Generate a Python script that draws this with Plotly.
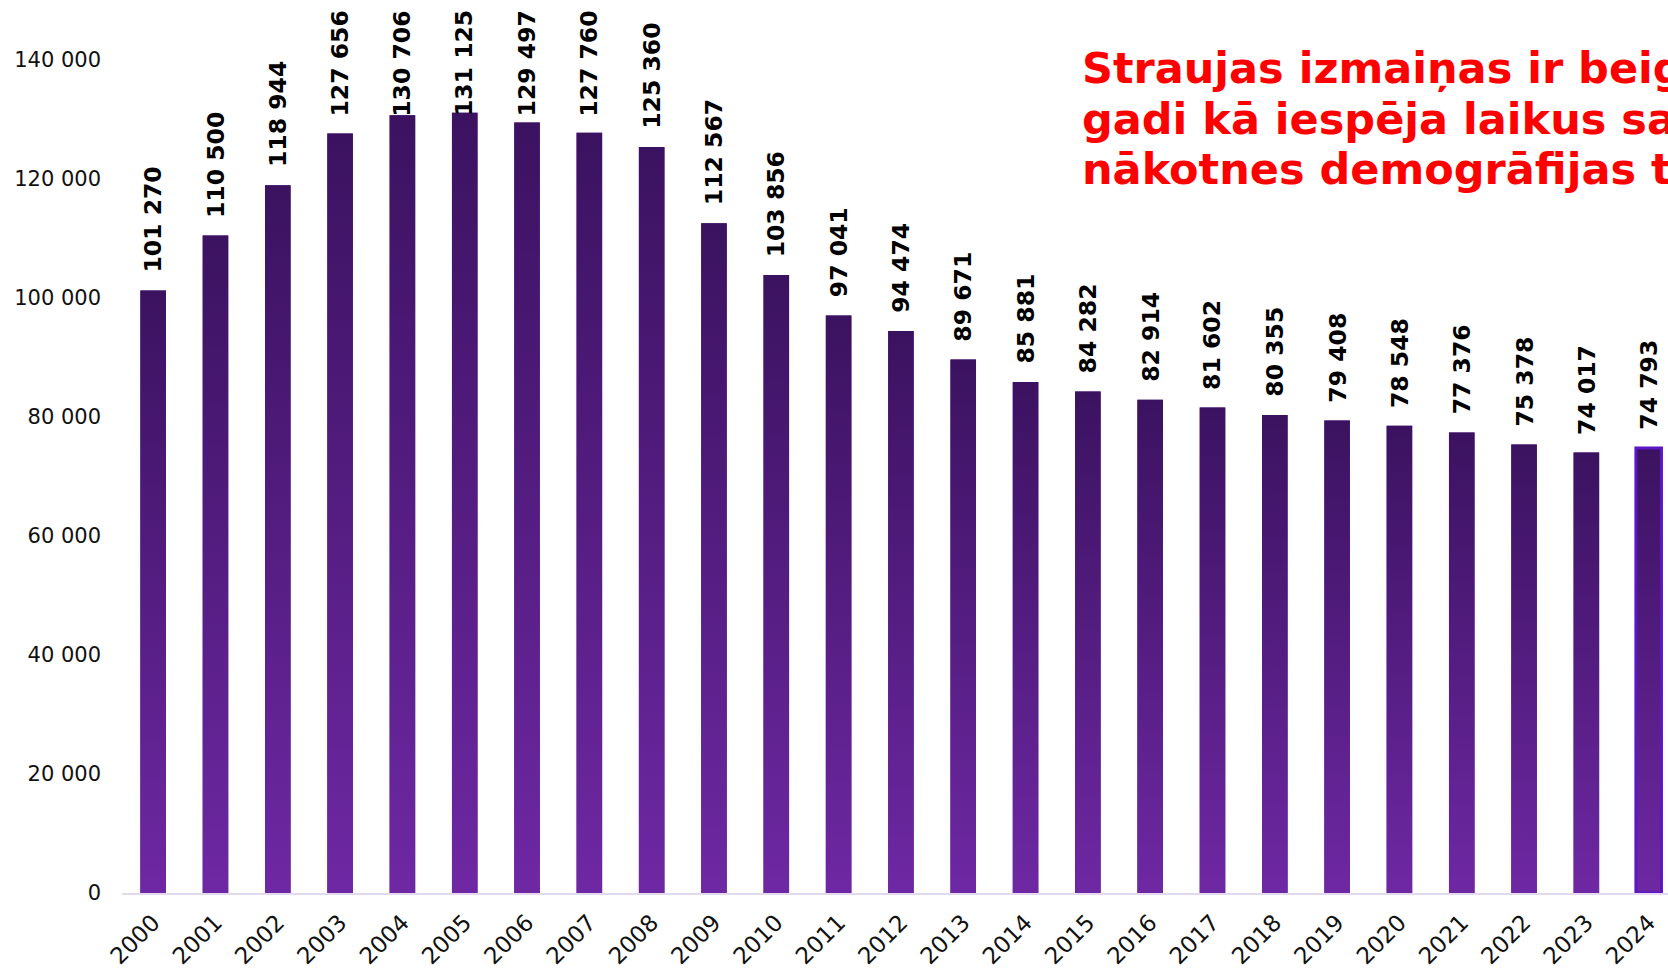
import plotly.graph_objects as go

# ---- data ----
years = list(range(2000, 2025))
year_labels = [str(y) for y in years]
births = [101270, 110500, 118944, 127656, 130706, 131125, 129497, 127760, 125360, 112567,
          103856, 97041, 94474, 89671, 85881, 84282, 82914, 81602, 80355, 79408,
          78548, 77376, 75378, 74017, 74793]
y_ticks = [0, 20000, 40000, 60000, 80000, 100000, 120000, 140000]
title_lines = [
    "Straujas izmaiņas ir beigušās –",
    "gadi kā iespēja laikus sagatavoties",
    "nākotnes demogrāfijas tendencēm",
]

# ---- style ----
W, H = 1668, 971
ML, MR, MT, MB = 122, 0, 60, 78
BAR_W = 0.41
TOP_C = "#3b1260"
BOT_C = "#6e28a3"
MID_C = "#55208a"
HL_C = "#5b16c6"
LABEL_CLAMP = 127500   # labels of taller bars stay inside the chart area (as in the source)
LABEL_GAP = 16

fig = go.Figure()

fig.add_trace(go.Bar(
    x=years, y=births, width=BAR_W,
    marker=dict(color=MID_C, line=dict(width=0)),
    showlegend=False, hovertemplate="%{x}: %{y:,}<extra></extra>",
))

# vertical gradient fill per bar (derived from the same data)
for i, (yr, v) in enumerate(zip(years, births)):
    x0, x1 = yr - BAR_W / 2, yr + BAR_W / 2
    last = i == len(years) - 1
    fig.add_trace(go.Scatter(
        x=[x0, x1, x1, x0, x0], y=[0, 0, v, v, 0],
        mode="lines", fill="toself",
        line=dict(width=3 if last else 0, color=HL_C if last else "rgba(0,0,0,0)"),
        fillgradient=dict(type="vertical", colorscale=[[0, BOT_C], [1, TOP_C]]),
        hoverinfo="skip", showlegend=False,
    ))

# value labels
for yr, v in zip(years, births):
    fig.add_annotation(
        x=yr, y=min(v, LABEL_CLAMP), xref="x", yref="y",
        text=f"{v:,}".replace(",", " "), textangle=-90,
        xanchor="center", yanchor="bottom", yshift=LABEL_GAP, showarrow=False,
        font=dict(family="DejaVu Sans", size=23.5, color="black", weight="bold"),
    )

plot_h = H - MT - MB
for line, ypx in zip(title_lines, [68, 119, 169]):
    fig.add_annotation(
        xref="paper", yref="paper", x=(1080 - ML) / (W - ML - MR), y=(H - MB - ypx) / plot_h,
        xanchor="left", yanchor="middle", align="left", showarrow=False,
        text=line, font=dict(family="DejaVu Sans", size=43, color="#ff0000", weight="bold"),
    )

fig.update_layout(
    width=W, height=H,
    margin=dict(l=ML, r=MR, t=MT, b=MB),
    paper_bgcolor="white", plot_bgcolor="white",
    separators=". ",
    xaxis=dict(
        range=[1999.5, 2024.31], tickmode="array", tickvals=years, ticktext=year_labels,
        tickangle=-45, showgrid=False, zeroline=False,
        showline=True, linecolor="#e4daf0", linewidth=2,
        ticklabelstandoff=5,
        tickfont=dict(family="DejaVu Sans", size=23, color="#111111"),
    ),
    yaxis=dict(
        range=[0, 140000], tickmode="array", tickvals=y_ticks, tickformat=",",
        showgrid=False, zeroline=False, showline=False,
        ticklabelstandoff=20,
        tickfont=dict(family="DejaVu Sans", size=21, color="#111111"),
    ),
)

fig.write_html("out.html", config={"displayModeBar": False},
               post_script="document.body.style.margin='0';")
